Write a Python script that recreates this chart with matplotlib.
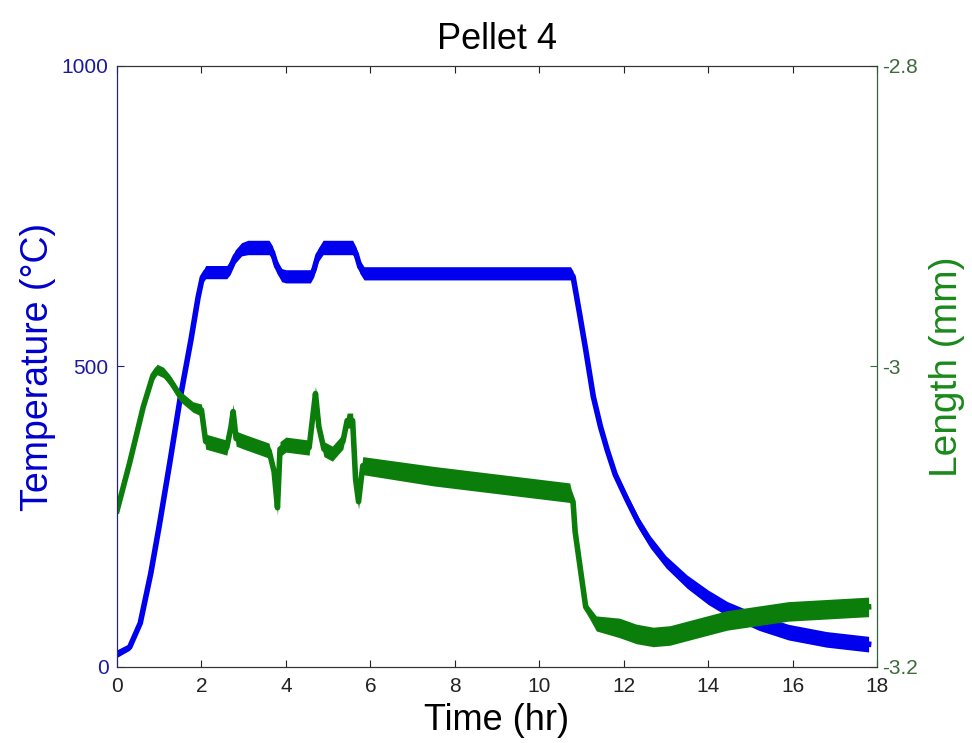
import numpy as np
import matplotlib.pyplot as plt

# temperature trace (deg C)
temp_t = [0, 0.3, 0.55, 0.8, 1.0, 1.25, 1.5, 1.75, 1.92, 2.02, 2.1, 2.6, 2.68, 2.8,
          2.95, 3.1, 3.6, 3.68, 3.78, 3.9, 4.0, 4.58, 4.66, 4.76, 4.88, 5.58, 5.66,
          5.75, 5.85, 10.74, 10.8, 10.95, 11.1, 11.28, 11.45, 11.61, 11.8, 12.08,
          12.35, 12.63, 13.0, 13.5, 14.0, 14.45, 15.2, 15.9, 16.8, 17.8]
temp_c = [22, 33, 73, 156, 235, 340, 449, 544, 615, 648, 657, 657, 664, 683,
          695, 698, 698, 690, 667, 652, 650, 650, 660, 685, 698, 698, 688,
          666, 655, 655, 650, 590, 528, 450, 400, 361, 320, 278,
          240, 208, 175, 142, 116, 97, 74, 58, 46, 38]
temp_spread = [12, 10, 10, 10, 10, 10, 10, 10, 12, 18, 22, 22, 22, 22,
               22, 24, 24, 22, 22, 22, 22, 22, 22, 22, 24, 24, 22,
               22, 22, 22, 18, 14, 14, 14, 15, 16, 17, 18,
               19, 20, 20, 22, 24, 24, 26, 26, 26, 26]

# length trace (mm)
len_t = [0, 0.3, 0.62, 0.85, 0.95, 1.1, 1.25, 1.5, 1.8, 2.0, 2.1, 2.6, 2.7, 2.75,
         2.82, 3.0, 3.6, 3.72, 3.8, 3.86, 4.0, 4.55, 4.65, 4.7, 4.78, 4.9, 5.1,
         5.35, 5.45, 5.58, 5.65, 5.72, 5.82, 7.5, 10.72, 10.8, 10.85, 11.1, 11.35,
         11.9, 12.3, 12.7, 13.1, 13.5, 14.45, 15.9, 17.8]
len_mm = [-3.096, -3.064, -3.027, -3.006, -3.002, -3.004, -3.009, -3.020, -3.027,
          -3.029, -3.050, -3.054, -3.040, -3.030, -3.048, -3.050, -3.056, -3.070,
          -3.094, -3.055, -3.052, -3.054, -3.030, -3.018, -3.040, -3.055, -3.058,
          -3.050, -3.036, -3.036, -3.075, -3.090, -3.066, -3.073, -3.084, -3.090,
          -3.110, -3.160, -3.171, -3.174, -3.178, -3.180, -3.179, -3.176, -3.169,
          -3.163, -3.160]
len_spread = [0.005, 0.006, 0.006, 0.007, 0.007, 0.007, 0.007, 0.007, 0.007,
              0.008, 0.010, 0.010, 0.010, 0.010, 0.010, 0.010, 0.010, 0.010,
              0.010, 0.010, 0.010, 0.010, 0.010, 0.010, 0.010, 0.010, 0.010,
              0.010, 0.010, 0.010, 0.010, 0.010, 0.012, 0.013, 0.013, 0.006,
              0.004, 0.006, 0.010, 0.013, 0.013, 0.013, 0.013, 0.013, 0.013,
              0.013, 0.013]

blue = '#0000ee'
green = '#0b7d0b'

plt.rcParams['font.family'] = ['Liberation Sans', 'DejaVu Sans']

fig = plt.figure(figsize=(9.72, 7.43), dpi=100)
ax1 = fig.add_axes([0.1204, 0.1023, 0.7819, 0.8089])
ax2 = ax1.twinx()

t1 = np.array(temp_t)
c1 = np.array(temp_c)
s1 = np.array(temp_spread)
ax1.fill_between(t1, c1 - s1 / 2, c1 + s1 / 2, color=blue, lw=0)
ax1.plot(t1, c1, color=blue, lw=4, solid_joinstyle='round')

t2 = np.array(len_t)
m2 = np.array(len_mm)
s2 = np.array(len_spread)
ax2.fill_between(t2, m2 - s2 / 2, m2 + s2 / 2, color=green, lw=0)
ax2.plot(t2, m2, color=green, lw=4, solid_joinstyle='round')

ax1.set_xlim(0, 18)
ax1.set_ylim(0, 1000)
ax2.set_ylim(-3.2, -2.8)
ax1.set_xticks(range(0, 19, 2))
ax1.set_yticks([0, 500, 1000])
ax2.set_yticks([-3.2, -3.0, -2.8])
ax2.set_yticklabels(['-3.2', '-3', '-2.8'])

ax1.tick_params(axis='x', direction='in', length=5, top=True, labelsize=15, colors='#222222', pad=7)
ax1.tick_params(axis='y', direction='in', length=5, labelsize=15, colors='#1a1aa0', pad=6)
ax2.tick_params(axis='y', direction='in', length=5, labelsize=15, colors='#3c6a3c', pad=4)

for a in (ax1, ax2):
    a.spines['top'].set_color('#333333')
    a.spines['bottom'].set_color('#333333')
    a.spines['left'].set_color('#22227a')
    a.spines['right'].set_color('#2f5f3f')

ax1.set_title('Pellet 4', fontsize=26, pad=12)
ax1.set_xlabel('Time (hr)', fontsize=26, labelpad=5)
ax1.set_ylabel('Temperature (°C)', fontsize=27, color='#0000cc', labelpad=4)
ax2.set_ylabel('Length (mm)', fontsize=28, color='#1a8a1a', labelpad=8)

fig.savefig('out.png', dpi=100)
